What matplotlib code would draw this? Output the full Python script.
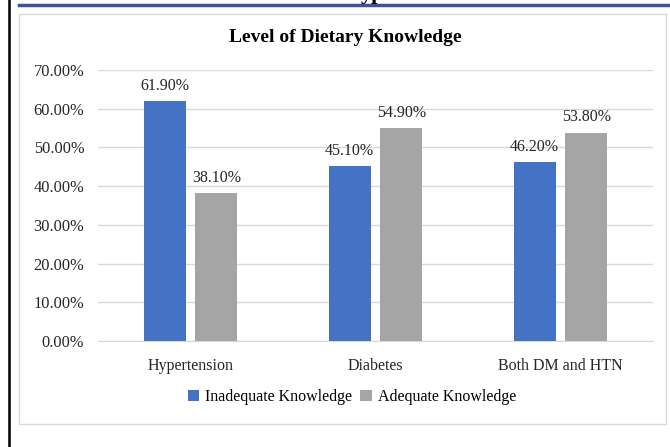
import matplotlib.pyplot as plt
import numpy as np
from matplotlib.patches import Rectangle
from matplotlib.lines import Line2D

categories = ["Hypertension", "Diabetes", "Both DM and HTN"]
inadequate = [61.9, 45.1, 46.2]
adequate = [38.1, 54.9, 53.8]
series_names = ["Inadequate Knowledge", "Adequate Knowledge"]

plt.rcParams['font.family'] = ['Liberation Serif', 'DejaVu Serif']

fig = plt.figure(figsize=(6.7, 4.47), dpi=100)
ax = fig.add_axes([98/670, 1-341/447, 555/670, 271/447])

x = np.arange(len(categories))
w = 0.227
off = 0.14
b1 = ax.bar(x - off, inadequate, w, color='#4472C4', label=series_names[0], zorder=3)
b2 = ax.bar(x + off, adequate, w, color='#A5A5A5', label=series_names[1], zorder=3)

for bars, vals in [(b1, inadequate), (b2, adequate)]:
    for b, v in zip(bars, vals):
        ax.annotate(f"{v:.2f}%", (b.get_x() + b.get_width()/2, v),
                    xytext=(0, 5.5), textcoords='offset points',
                    ha='center', va='bottom', fontsize=11.5, color='#262626')

ax.set_xlim(-0.5, 2.5)
ax.set_ylim(0, 70)
ax.set_yticks(np.arange(0, 71, 10))
ax.set_yticklabels([f"{t:.2f}%" for t in np.arange(0, 71, 10)], fontsize=11.8, color='#262626')
ax.set_xticks(x)
ax.set_xticklabels(categories, fontsize=11.5, color='#262626')
ax.tick_params(axis='both', length=0)
ax.tick_params(axis='y', pad=10)
ax.tick_params(axis='x', pad=12)
ax.grid(axis='y', color='#D9D9D9', linewidth=1, zorder=0)
for s in ['top', 'right', 'left']:
    ax.spines[s].set_visible(False)
ax.spines['bottom'].set_color('#D9D9D9')

fig.text(345/670, 1-37/447, "Level of Dietary Knowledge", ha='center', va='center',
         fontsize=14, fontweight='bold', color='black')

fig.legend(loc='center', bbox_to_anchor=(352/670, 1-397/447), ncol=2, frameon=False,
           fontsize=11.5, handlelength=0.7, handleheight=0.7, handletextpad=0.4,
           columnspacing=0.5)

# chart border and page decorations
fig.patches.append(Rectangle((19/670, 1-424/447), 647/670, 410/447, transform=fig.transFigure,
                             fill=False, edgecolor='#D9D9D9', linewidth=1))
fig.lines.append(Line2D([19/670, 1], [1-5/447, 1-5/447], transform=fig.transFigure,
                        color='#3F51A0', linewidth=2.5))
fig.lines.append(Line2D([9/670, 9/670], [0, 1], transform=fig.transFigure,
                        color='black', linewidth=1.8))
# cut-off heading text above the chart
fig.text(373/670, 1 + 1/447, "yp", ha='center', va='baseline',
         fontsize=16, fontweight='bold', color='black')

fig.savefig("out.png", dpi=100)
